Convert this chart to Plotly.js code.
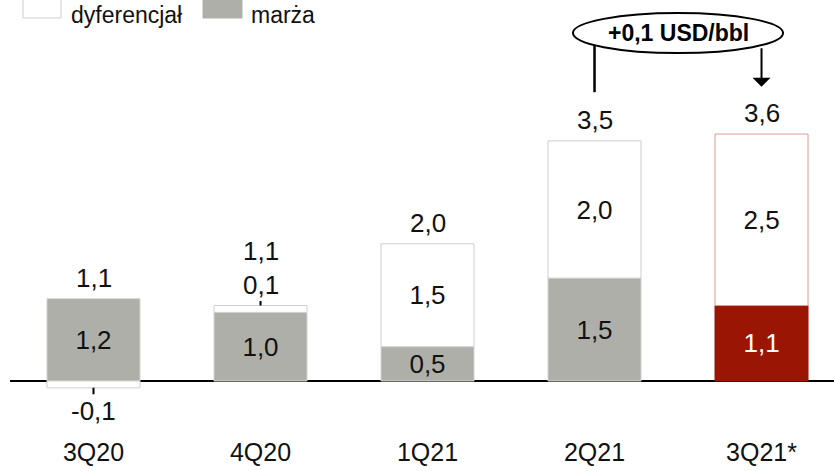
<!DOCTYPE html>
<html>
<head>
<meta charset="utf-8">
<script src="https://cdn.plot.ly/plotly-3.0.1.min.js"></script>
<style>
  html, body { margin: 0; padding: 0; background: #ffffff; }
  #chart { width: 834px; height: 471px; }
</style>
</head>
<body>
<div id="chart"></div>
<script>
// ---- data ----
const categories = ['3Q20', '4Q20', '1Q21', '2Q21', '3Q21*'];
const marza = [1.2, 1.0, 0.5, 1.5, 1.1];
const dyferencjal = [-0.1, 0.1, 1.5, 2.0, 2.5];
const suma = [1.1, 1.1, 2.0, 3.5, 3.6];
const legendLabels = ['dyferencjał', 'marża'];
const calloutText = '+0,1 USD/bbl';

// ---- styling ----
const FONT = '"Liberation Sans", Arial, sans-serif';
const FS = 26;
const highlightIndex = 4;
const greyFill = '#afafaa';
const redFill = '#9b1504';
const fmt = v => v.toFixed(1).replace('.', ',');

const marzaColors = categories.map((c, i) => i === highlightIndex ? redFill : greyFill);
const marzaLine = categories.map((c, i) => i === highlightIndex ? redFill : '#d4d4d0');
const dyfLine = categories.map((c, i) => i === highlightIndex ? '#dc9c96' : '#cdcdcd');
const marzaTextColors = categories.map((c, i) => i === highlightIndex ? '#ffffff' : '#111111');

const smallThreshold = 0.3;
const dyfText = dyferencjal.map(v => Math.abs(v) >= smallThreshold ? fmt(v) : '');

const traceMarza = {
  type: 'bar', x: categories, y: marza, name: legendLabels[1],
  marker: { color: marzaColors, line: { color: marzaLine, width: 1 } },
  text: marza.map(fmt), textposition: 'inside', insidetextanchor: 'middle', constraintext: 'none',
  textangle: 0, textfont: { family: FONT, size: FS, color: marzaTextColors },
  hoverinfo: 'skip', showlegend: false
};
const traceDyf = {
  type: 'bar', x: categories, y: dyferencjal, name: legendLabels[0],
  marker: { color: '#ffffff', line: { color: dyfLine, width: 1 } },
  text: dyfText, textposition: 'inside', insidetextanchor: 'middle', constraintext: 'none',
  textangle: 0, textfont: { family: FONT, size: FS, color: '#111111' },
  hoverinfo: 'skip', showlegend: false
};

const annotations = [];
categories.forEach((c, i) => {
  const posTop = marza[i] + Math.max(dyferencjal[i], 0);
  const d = dyferencjal[i];
  let extra = 0;
  if (Math.abs(d) < smallThreshold) {
    if (d >= 0) {
      annotations.push({ x: c, y: posTop, text: fmt(d), showarrow: true, arrowhead: 0,
        arrowwidth: 2, arrowcolor: '#000', ax: 0, ay: -21, font: { family: FONT, size: FS, color: '#111' } });
      extra = 34;
    } else {
      annotations.push({ x: c, y: d, text: fmt(d), showarrow: true, arrowhead: 0,
        arrowwidth: 2, arrowcolor: '#000', ax: 0, ay: 23, font: { family: FONT, size: FS, color: '#111' } });
    }
  }
  annotations.push({ x: c, y: posTop, text: fmt(suma[i]), showarrow: false,
    yanchor: 'middle', yshift: 21 + extra, font: { family: FONT, size: FS, color: '#111' } });
});

// callout
const calloutY = 5.07;
annotations.push({ x: 3.5, y: calloutY, xref: 'x', yref: 'y', text: '<b>' + calloutText + '</b>',
  showarrow: false, font: { family: FONT, size: 23, color: '#000' } });
annotations.push({ x: categories[4], y: 4.29, text: '', showarrow: true, arrowhead: 1, arrowsize: 1.5,
  arrowwidth: 2, arrowcolor: '#000', ax: 0, ay: -40 });

// legend (drawn manually)
const PT = 435, PL = 10, PW = 824;
const px = v => (v - PL) / PW;
const py = v => 1 - v / PT;
annotations.push({ xref: 'paper', yref: 'paper', x: px(69), y: py(0), xanchor: 'left', yanchor: 'top',
  text: legendLabels[0], showarrow: false, font: { family: FONT, size: 23, color: '#111' } });
annotations.push({ xref: 'paper', yref: 'paper', x: px(249), y: py(0), xanchor: 'left', yanchor: 'top',
  text: legendLabels[1], showarrow: false, font: { family: FONT, size: 23, color: '#111' } });

const shapes = [
  { type: 'rect', xref: 'paper', yref: 'paper', x0: px(23), x1: px(61), y0: py(18), y1: py(-5),
    fillcolor: '#ffffff', line: { color: '#cdcdcd', width: 1 } },
  { type: 'rect', xref: 'paper', yref: 'paper', x0: px(203), x1: px(242), y0: py(18), y1: py(-5),
    fillcolor: greyFill, line: { color: greyFill, width: 1 } },
  { type: 'line', xref: 'x', yref: 'y', x0: 3, x1: 3, y0: calloutY, y1: 4.21, line: { color: '#000', width: 2.5 } },
  { type: 'circle', xref: 'x', yref: 'y', x0: 2.871, x1: 4.129, y0: 4.781, y1: 5.364,
    fillcolor: '#ffffff', line: { color: '#000', width: 2 } }
];

const layout = {
  width: 834, height: 471,
  margin: { l: PL, r: 0, t: 0, b: 471 - PT },
  paper_bgcolor: '#ffffff', plot_bgcolor: '#ffffff',
  barmode: 'relative', bargap: 0.443,
  showlegend: false,
  xaxis: { type: 'category', range: [-0.5, 4.434], showgrid: false, showline: false, zeroline: false,
    ticks: '', tickfont: { family: FONT, size: 25, color: '#111' }, fixedrange: true },
  yaxis: { range: [-(PT - 381) / 68.6, 381 / 68.6], showgrid: false, showticklabels: false,
    zeroline: true, zerolinecolor: '#000', zerolinewidth: 2.5, showline: false, fixedrange: true },
  annotations: annotations,
  shapes: shapes
};

Plotly.newPlot('chart', [traceMarza, traceDyf], layout, { displayModeBar: false, staticPlot: true });
</script>
</body>
</html>
